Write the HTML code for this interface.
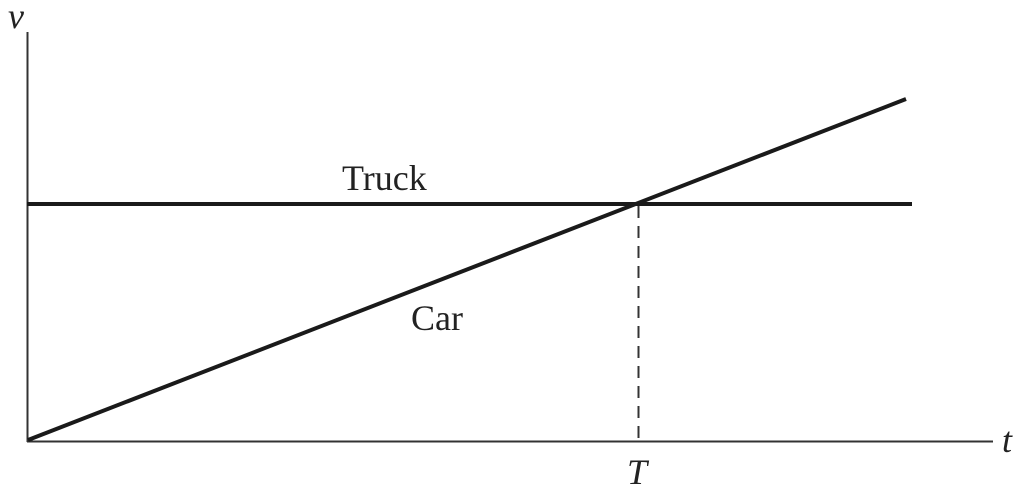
<!DOCTYPE html>
<html><head><style>html,body{margin:0;padding:0;background:#fff;}</style></head>
<body>
<svg width="1024" height="491" xmlns="http://www.w3.org/2000/svg">
<g stroke="#333" fill="none">
<line x1="27.5" y1="32" x2="27.5" y2="442" stroke-width="2"/>
<line x1="27" y1="441.5" x2="993" y2="441.5" stroke-width="2"/>
<line x1="27" y1="204" x2="912" y2="204" stroke="#1a1a1a" stroke-width="4"/>
<line x1="28" y1="440" x2="906" y2="99" stroke="#1a1a1a" stroke-width="4"/>
<line x1="638.5" y1="206" x2="638.5" y2="441" stroke-width="2" stroke-dasharray="12,8"/>
</g>
<g font-family="Liberation Serif, serif" fill="#222">
<text x="8" y="28" font-size="36" font-style="italic">v</text>
<text x="1002" y="452" font-size="36" font-style="italic">t</text>
<text x="627" y="484" font-size="36" font-style="italic">T</text>
<text x="342" y="190" font-size="36">Truck</text>
<text x="411" y="330" font-size="36">Car</text>
</g>
</svg>
</body></html>
